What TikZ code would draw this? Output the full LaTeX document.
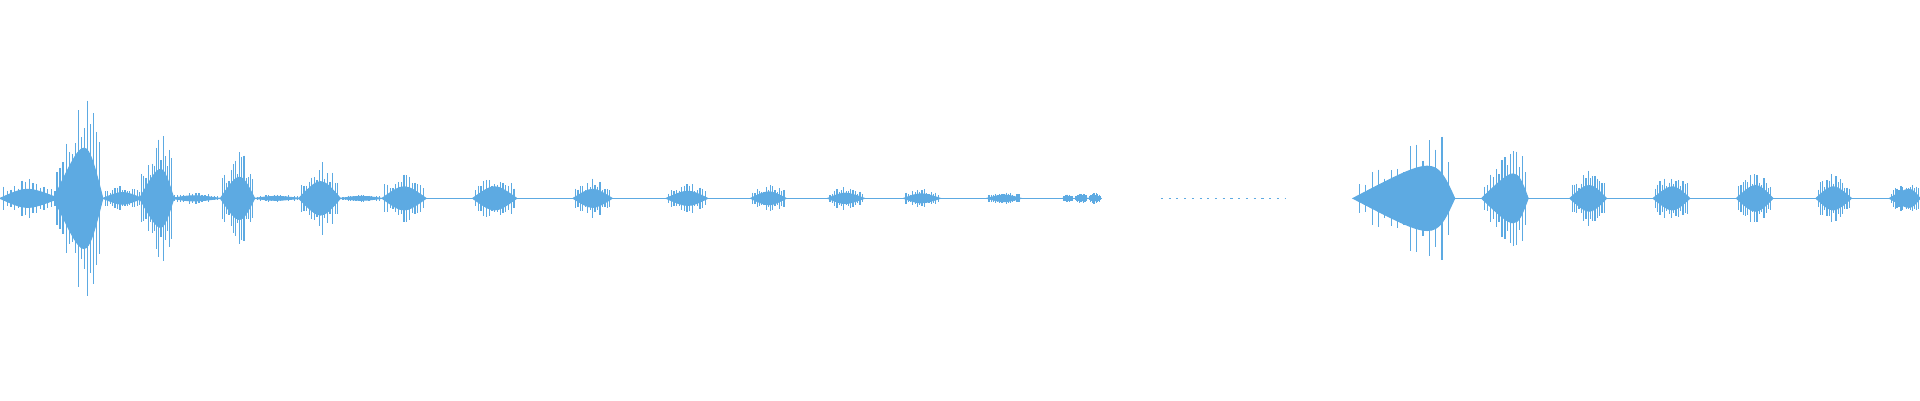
\documentclass[tikz,border=0pt]{standalone}
\usepackage{tikz}
\definecolor{wavecol}{RGB}{93,170,226}
\tikzset{
	env/.style={fill=wavecol,draw=wavecol,line width=.3pt},
	spike/.style={draw=wavecol,line width=.35pt},
	base/.style={draw=wavecol,line width=.3pt}
}
\begin{document}
\begin{tikzpicture}[x=0.012245cm,y=-0.012232cm]
	\useasboundingbox (0,0) rectangle (1568,327);
	\pgfmathsetseed{7}
	% baseline between the bursts
	\draw[base] (0,162) -- (900,162);
	\draw[base,dash pattern=on .6pt off 1.6pt] (948,162) -- (1050,162);
	\draw[base] (1105,162) -- (1568,162);
	% bursts: start / peak / end / amplitude
	\foreach \xa/\xp/\xb/\amp in {
		0/22/48/14, 44/70/84/78, 84/100/116/9, 114/132/142/45, 140/158/180/4,
		180/196/208/33, 208/225/245/3, 244/262/278/26, 278/295/312/3, 312/330/348/18,
		386/404/422/18, 468/484/500/14, 544/562/578/11, 613/628/642/10, 676/690/706/8,
		738/752/768/7, 806/820/834/5, 868/872/876/3, 878/883/888/4, 889/894/899/4,
		1105/1172/1188/50, 1210/1238/1248/38, 1282/1298/1312/20, 1350/1366/1380/18,
		1418/1434/1448/20, 1483/1497/1512/18, 1543/1560/1568/14}{
		\fill[env] (\xa,162) .. controls (\xp,162-0.7*\amp) and (\xp,162-0.7*\amp) .. (\xb,162)
			.. controls (\xp,162+0.7*\amp) and (\xp,162+0.7*\amp) .. cycle;
		\pgfmathsetmacro{\stp}{(\xb-\xa)/16}
		\foreach \k in {1,...,15}{
			\pgfmathsetmacro{\xx}{\xa+\k*\stp}
			\pgfmathsetmacro{\hh}{\amp*(1-abs(\xx-\xp)/(\xb-\xa))*(0.6+0.6*rnd)}
			\draw[spike] (\xx,162-\hh) -- (\xx,162+\hh);
		}
	}
\end{tikzpicture}
\end{document}
